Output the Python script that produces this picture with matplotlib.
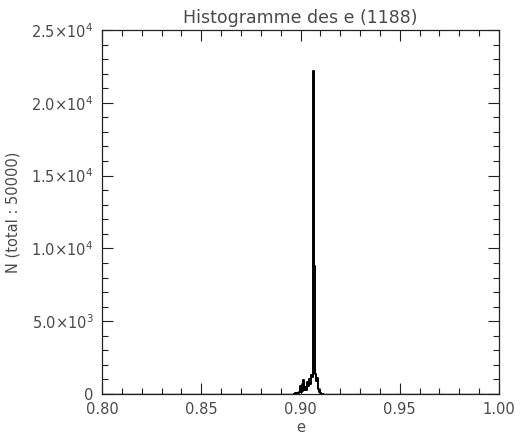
import numpy as np
import matplotlib
matplotlib.use("Agg")
import matplotlib.pyplot as plt
from matplotlib.ticker import MultipleLocator, FixedLocator

# histogram of e (bin centres, width 0.0005)
e_centers = [0.8970, 0.8975, 0.8980, 0.8985, 0.8990, 0.8995, 0.9000, 0.9005,
             0.9010, 0.9015, 0.9020, 0.9025, 0.9030, 0.9035, 0.9040, 0.9045,
             0.9050, 0.9055, 0.9060, 0.9065, 0.9070, 0.9075, 0.9080, 0.9085,
             0.9090, 0.9095, 0.9100, 0.9105, 0.9110]
counts = [20, 50, 80, 60, 100, 150, 550, 120,
          200, 950, 250, 500, 300, 800, 550, 1000,
          700, 1300, 1150, 22200, 8800, 1350, 900, 1100,
          350, 150, 60, 30, 10]

x_ticks = [0.80, 0.85, 0.90, 0.95, 1.00]
x_labels = ["0.80", "0.85", "0.90", "0.95", "1.00"]
y_ticks = [0, 5000, 10000, 15000, 20000, 25000]
y_labels = ["0", r"5.0$\times$10$^{3}$", r"1.0$\times$10$^{4}$",
            r"1.5$\times$10$^{4}$", r"2.0$\times$10$^{4}$", r"2.5$\times$10$^{4}$"]

txt = "#4a4a4a"
plt.rcParams.update({"font.family": "DejaVu Sans", "mathtext.fontset": "dejavusans"})

fig = plt.figure(figsize=(5.23, 4.37), dpi=100)
ax = fig.add_axes([102 / 523, 43 / 437, 397 / 523, 364 / 437])

# pad with zeros on both sides so the step falls back to the baseline
xs = [e_centers[0] - 0.0005] + e_centers + [e_centers[-1] + 0.0005]
ys = [0] + counts + [0]
ax.step(xs, ys, where="mid", color="black", linewidth=1.4)
ax.plot([0.80, 0.8965], [0, 0], color="black", linewidth=1.0)
ax.plot([0.9115, 1.00], [0, 0], color="black", linewidth=1.0)

ax.set_xlim(0.80, 1.00)
ax.set_ylim(0, 25000)
ax.xaxis.set_major_locator(FixedLocator(x_ticks))
ax.set_xticklabels(x_labels)
ax.xaxis.set_minor_locator(MultipleLocator(0.01))
ax.yaxis.set_major_locator(FixedLocator(y_ticks))
ax.set_yticklabels(y_labels)
ax.yaxis.set_minor_locator(MultipleLocator(1000))

ax.tick_params(which="both", direction="in", top=True, right=True,
               colors="#222222", labelcolor=txt, labelsize=10.5, width=0.8)
ax.tick_params(which="major", length=8, pad=6)
ax.tick_params(which="minor", length=4)
for s in ax.spines.values():
    s.set_linewidth(0.9)
    s.set_color("#222222")

ax.set_title("Histogramme des e (1188)", fontsize=12.5, color=txt, pad=5)
ax.set_xlabel("e", fontsize=10.5, color=txt, labelpad=2)
ax.set_ylabel("N (total : 50000)", fontsize=10.5, color=txt, labelpad=8)

fig.savefig("out.png", dpi=100, facecolor="white")
